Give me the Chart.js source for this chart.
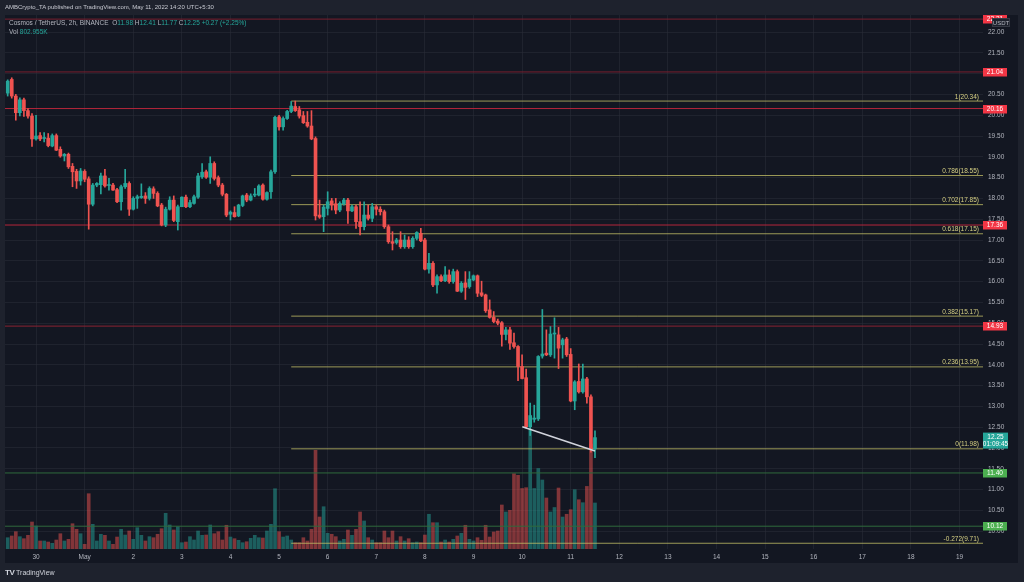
<!DOCTYPE html>
<html><head><meta charset="utf-8">
<script src="https://cdn.jsdelivr.net/npm/chart.js@4.4.1/dist/chart.umd.min.js"></script>
<style>
html,body{margin:0;padding:0;background:#1e222d;width:1024px;height:582px;overflow:hidden;font-family:"Liberation Sans",Arial,sans-serif;}
#wrap{position:relative;width:1024px;height:582px;}
canvas{position:absolute;left:0;top:0;}
.t{position:absolute;font-size:6.5px;color:#b2b5be;white-space:nowrap;line-height:1;}
.g{color:#26a69a}
</style></head><body>
<div id="wrap">
<canvas id="c" width="1024" height="582"></canvas>
<div class="t" style="left:5px;top:4px;font-size:6px;color:#c8cad2">AMBCrypto_TA published on TradingView.com, May 11, 2022 14:20 UTC+5:30</div>
<div class="t" style="left:9px;top:20px">Cosmos / TetherUS, 2h, BINANCE &nbsp;O<span class="g">11.98</span> H<span class="g">12.41</span> L<span class="g">11.77</span> C<span class="g">12.25</span> <span class="g">+0.27 (+2.25%)</span></div>
<div class="t" style="left:9px;top:29px">Vol <span class="g">802.955K</span></div>
<div class="t" style="left:5px;top:569px;font-size:7px;color:#d1d4dc"><b style="font-size:8px;letter-spacing:-0.5px">TV</b> TradingView</div>
</div>
<script>
// ---------------- DATA ----------------
const openP = [
20.53,20.86,20.46,20.06,20.37,20.11,19.98,19.43,19.51,19.44,
19.45,19.26,19.51,19.18,19.02,19.06,18.77,18.65,18.42,18.65,
18.47,17.86,18.32,18.33,18.54,18.31,18.32,18.21,17.92,18.28,
18.36,17.74,18.00,18.02,18.06,18.00,18.23,18.12,17.84,17.36,
17.74,17.96,17.44,17.80,18.03,17.80,17.88,18.03,18.52,18.64,
18.51,18.84,18.50,18.32,18.10,17.62,17.66,17.58,17.83,18.08,
17.96,18.08,18.08,18.32,17.98,18.16,18.64,19.96,19.72,19.92,
20.09,20.21,20.13,19.99,19.83,19.74,19.44,17.60,17.56,17.76,
17.94,17.87,17.72,17.87,17.96,17.70,17.80,17.44,17.32,17.60,
17.52,17.80,17.74,17.68,17.32,16.96,16.94,17.00,16.84,17.00,
16.84,17.04,17.16,17.00,16.30,16.44,15.92,16.12,16.02,16.16,
16.00,16.24,15.77,15.97,15.88,16.04,16.14,15.73,15.68,15.32,
15.14,15.05,15.01,14.73,14.84,14.53,14.44,13.96,13.69,12.51,
12.69,12.70,14.21,14.28,14.24,14.74,14.72,14.48,14.62,14.25,
13.13,13.60,13.35,13.66,13.23,11.98];
const highP = [
20.85,20.90,20.50,20.42,20.41,20.16,20.04,20.00,19.58,19.58,
19.56,19.55,19.55,19.24,19.08,19.09,18.84,18.70,18.72,18.69,
18.52,18.36,18.38,18.61,18.70,18.48,18.36,18.24,18.32,18.70,
18.40,18.04,18.08,18.35,18.14,18.28,18.28,18.16,17.88,17.79,
18.04,18.06,17.84,18.04,18.08,17.96,18.08,18.60,18.84,18.68,
19.00,18.88,18.54,18.36,18.12,17.70,17.80,17.86,18.08,18.12,
18.11,18.24,18.33,18.35,18.16,18.68,19.98,20.00,19.96,20.12,
20.33,20.34,20.21,20.09,20.09,20.11,19.48,17.96,17.84,18.16,
18.00,18.00,17.92,18.00,18.00,17.84,17.84,17.92,17.92,17.84,
17.88,17.84,17.80,17.72,17.36,17.20,17.04,17.20,17.12,17.08,
17.08,17.20,17.28,17.04,16.68,16.48,16.16,16.16,16.36,16.28,
16.30,16.28,16.00,16.24,16.24,16.16,16.16,16.01,15.70,15.56,
15.28,15.10,15.04,14.90,14.90,14.76,14.46,14.24,13.90,13.08,
13.03,14.22,15.33,14.84,14.92,15.13,14.90,14.64,14.66,14.39,
13.62,14.02,14.02,13.70,13.28,12.41];
const lowP = [
20.46,20.41,19.88,19.98,19.97,19.93,19.25,19.40,19.39,19.36,
19.24,19.24,19.15,18.99,18.90,18.72,18.28,18.24,18.32,18.40,
17.26,17.82,18.28,18.11,18.27,18.20,18.19,17.90,17.72,18.24,
17.59,17.72,17.76,18.00,17.88,17.96,18.00,17.80,17.34,17.32,
17.72,17.44,17.24,17.80,17.78,17.78,17.86,18.00,18.48,18.48,
18.36,18.44,18.28,18.06,17.56,17.48,17.55,17.56,17.80,17.92,
17.94,18.04,18.06,17.96,17.96,18.00,18.60,19.64,19.64,19.90,
20.06,20.09,19.93,19.80,19.71,19.41,17.48,17.52,17.20,17.60,
17.72,17.63,17.68,17.84,17.40,17.68,17.28,17.12,17.24,17.48,
17.44,17.60,17.60,17.28,16.92,16.76,16.90,16.80,16.80,16.80,
16.80,17.00,16.96,16.28,16.20,15.88,15.72,16.00,16.00,15.96,
15.96,15.76,15.74,15.57,15.84,16.02,15.64,15.64,15.26,15.12,
15.01,14.96,14.45,14.60,14.37,14.40,13.62,13.66,12.48,12.30,
12.62,12.66,14.16,14.22,14.20,14.16,13.91,14.16,14.20,13.11,
12.92,13.32,13.32,13.08,11.90,11.77];
const closeP = [
20.82,20.46,20.06,20.37,20.11,19.98,19.43,19.50,19.43,19.45,
19.27,19.51,19.16,19.02,19.06,18.76,18.64,18.42,18.66,18.46,
17.86,18.32,18.36,18.54,18.30,18.32,18.20,17.92,18.28,18.36,
17.74,18.00,18.04,18.05,18.00,18.24,18.12,17.82,17.36,17.74,
17.96,17.47,17.80,18.03,17.80,17.90,18.04,18.54,18.63,18.51,
18.84,18.48,18.32,18.10,17.60,17.67,17.56,17.84,18.06,17.96,
18.06,18.09,18.30,17.98,18.14,18.64,19.95,19.72,19.92,20.09,
20.22,20.11,19.98,19.82,19.74,19.43,17.58,17.55,17.79,17.92,
17.84,17.72,17.88,17.96,17.70,17.80,17.44,17.32,17.60,17.52,
17.80,17.74,17.68,17.32,16.96,16.92,17.00,16.84,17.00,16.84,
17.04,17.18,16.98,16.30,16.44,15.92,16.12,16.02,16.16,16.00,
16.24,15.77,15.96,15.86,16.06,16.14,15.72,15.67,15.30,15.14,
15.04,15.00,14.73,14.84,14.52,14.44,13.96,13.67,12.51,12.78,
12.72,14.20,14.26,14.24,14.74,14.76,14.40,14.60,14.24,13.13,
13.59,13.35,13.66,13.23,11.98,12.25];
const volumeK = [
197,227,302,215,180,239,471,401,140,140,
122,99,157,267,140,169,441,344,267,82,
965,431,140,257,239,140,82,209,344,244,
314,169,372,239,140,215,197,257,354,623,
419,332,389,110,122,215,157,314,239,244,
419,267,302,157,414,209,180,152,110,127,
187,239,197,192,314,431,1052,302,209,227,
157,110,110,197,140,344,1722,558,738,274,
257,215,140,169,332,239,344,646,489,197,
157,110,110,314,197,314,140,215,140,180,
110,122,110,244,606,459,459,122,157,122,
169,227,274,414,169,140,197,152,414,209,
297,314,768,646,675,1314,1286,1056,1070,2094,
1056,1405,1204,890,646,724,1064,558,606,686,
1035,860,808,1092,1832,803];
const dayLabels = ["30","May","2","3","4","5","6","7","8","9","10","11","12","13","14","15","16","17","18","19"];
const dayTickIndex = [7,19,31,43,55,67,79,91,103,115,127,139,151,163,175,187,199,211,223,235];
const redLevels = [22.31, 21.04, 20.16, 17.36, 14.93];
const greenLevels = [11.40, 10.12];
const fibRatios = ["1","0.786","0.702","0.618","0.382","0.236","0","-0.272"];
const fibPrices = [20.34, 18.55, 17.85, 17.15, 15.17, 13.95, 11.98, 9.71];
const fibStartIndex = 70;
const trendX = [127.06, 145];
const trendY = [12.51, 11.93];
const lastPrice = 12.25;
const countdown = "01:09:45";

// ---------------- STYLE ----------------
const FONT = '"Liberation Sans", Arial, sans-serif';
const UP = '#26a69a', DOWN = '#ef5350';
const GRID = 'rgba(42,46,57,0.55)';
const TICK = '#b2b5be';
const redLineColors = ['#7a1f2e','#7a1f2e','#b5263b','#b5263b','#8a2232'];
const X_MIN = -0.667, X_MAX = 240.8;

const N = closeP.length;
const idx = closeP.map((_, i) => i);
const isUp = idx.map(i => closeP[i] >= openP[i]);

const levelDs = [];
redLevels.forEach((v, k) => levelDs.push({type:'line', data:[{x:X_MIN,y:v},{x:X_MAX,y:v}], borderColor:redLineColors[k], borderWidth:1, pointRadius:0, order:6, yAxisID:'y'}));
greenLevels.forEach(v => levelDs.push({type:'line', data:[{x:X_MIN,y:v},{x:X_MAX,y:v}], borderColor:'#2f6a3c', borderWidth:1, pointRadius:0, order:6, yAxisID:'y'}));
fibPrices.forEach(v => levelDs.push({type:'line', data:[{x:fibStartIndex,y:v},{x:X_MAX,y:v}], borderColor:'rgba(190,186,100,0.8)', borderWidth:1, pointRadius:0, order:5, yAxisID:'y'}));
levelDs.push({type:'line', data: trendX.map((x, k) => ({x, y: trendY[k]})), borderColor:'#d1d4dc', borderWidth:1.6, pointRadius:0, order:0, yAxisID:'y'});

const labelPlugin = {
  id:'labels',
  beforeDraw(chart){
    const ctx = chart.ctx;
    ctx.save();
    ctx.fillStyle = '#1e222d'; ctx.fillRect(0,0,1024,582);
    ctx.fillStyle = '#131722'; ctx.fillRect(5,15,1013,548);
    ctx.restore();
  },
  afterDraw(chart){
    const ctx = chart.ctx, y = chart.scales.y, area = chart.chartArea;
    ctx.save();
    ctx.font = '6.5px ' + FONT;
    // fib labels
    ctx.textAlign = 'right'; ctx.textBaseline = 'bottom';
    ctx.fillStyle = '#d6d083';
    fibPrices.forEach((v, k) => {
      ctx.fillText(fibRatios[k] + '(' + v.toFixed(2) + ')', area.right - 4, y.getPixelForValue(v) - 1);
    });
    // price boxes
    ctx.textAlign = 'center'; ctx.textBaseline = 'middle';
    const box = (v, bg, fg) => {
      const py = Math.round(y.getPixelForValue(v));
      ctx.fillStyle = bg; ctx.fillRect(area.right, py - 4, 24, 8.5);
      ctx.fillStyle = fg; ctx.fillText(v.toFixed(2), area.right + 12, py + 0.5);
    };
    redLevels.forEach(v => box(v, '#f23645', '#ffffff'));
    greenLevels.forEach(v => box(v, '#4caf50', '#ffffff'));
    // last price box
    const lp = y.getPixelForValue(lastPrice);
    ctx.fillStyle = UP; ctx.fillRect(area.right, lp - 5, 25, 16);
    ctx.fillStyle = '#ffffff';
    ctx.fillText(lastPrice.toFixed(2), area.right + 12.5, lp);
    ctx.fillText(countdown, area.right + 12.5, lp + 7);
    // USDT box
    ctx.fillStyle = '#1e222d'; ctx.fillRect(992, 18, 18, 9);
    ctx.strokeStyle = '#363a45'; ctx.lineWidth = 1; ctx.strokeRect(992.5, 18.5, 17, 8);
    ctx.fillStyle = '#b2b5be'; ctx.font = '6px ' + FONT;
    ctx.fillText('USDT', 1001, 23);
    ctx.restore();
  }
};

new Chart(document.getElementById('c'), {
  type:'bar',
  data:{datasets:[
    {type:'bar', data: idx.map(i => ({x:i, y:[openP[i], closeP[i]]})), backgroundColor: idx.map(i => isUp[i] ? UP : DOWN), barThickness:3, minBarLength:1, grouped:false, order:1, yAxisID:'y'},
    {type:'bar', data: idx.map(i => ({x:i, y:[lowP[i], highP[i]]})), backgroundColor: idx.map(i => isUp[i] ? UP : DOWN), barThickness:1, grouped:false, order:2, yAxisID:'y'},
    {type:'bar', data: idx.map(i => ({x:i, y:volumeK[i]})), backgroundColor: idx.map(i => isUp[i] ? 'rgba(38,166,154,0.5)' : 'rgba(239,83,80,0.5)'), barThickness:3, grouped:false, order:20, yAxisID:'yv'},
    ...levelDs
  ]},
  options:{
    responsive:false, animation:false, devicePixelRatio:1,
    layout:{padding:{left:5, top:15, right:6, bottom:0}},
    plugins:{legend:{display:false}, tooltip:{enabled:false}},
    scales:{
      x:{type:'linear', min:X_MIN, max:X_MAX, offset:false, position:'bottom',
         afterBuildTicks: s => { s.ticks = dayTickIndex.map(v => ({value:v})); },
         afterFit: s => { s.height = 33; },
         grid:{color:GRID, drawTicks:false, offset:false}, border:{display:false},
         ticks:{autoSkip:false, maxRotation:0, padding:4, color:TICK, font:{family:FONT, size:6.5}, callback:(v, i) => dayLabels[i]}},
      y:{type:'linear', position:'right', min:9.572, max:22.409,
         afterFit: s => { s.width = 35; },
         grid:{color:GRID, drawTicks:false}, border:{display:false},
         ticks:{stepSize:0.5, includeBounds:false, autoSkip:false, padding:5, color:TICK, font:{family:FONT, size:6.5}, callback:v => v.toFixed(2)}},
      yv:{type:'linear', display:false, min:0, max:9318}
    }
  },
  plugins:[labelPlugin]
});
</script>
</body></html>
